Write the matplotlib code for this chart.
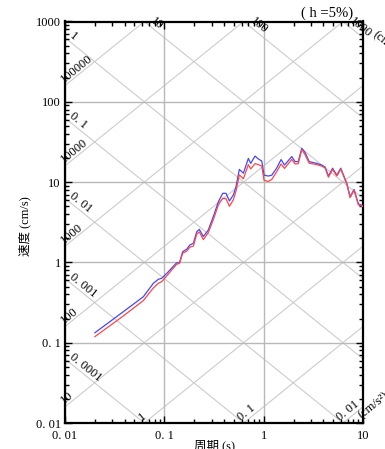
import numpy as np
import matplotlib
matplotlib.use("Agg")
import matplotlib.pyplot as plt
from matplotlib.ticker import FixedLocator, LogLocator, NullFormatter

plt.rcParams['font.family'] = ['Liberation Serif', 'Noto Sans CJK JP']
plt.rcParams['font.size'] = 9

# periods (s) and pseudo-velocity (cm/s), two components
period = [0.020, 0.0386, 0.0615, 0.0775, 0.087, 0.094, 0.106, 0.133, 0.142,
          0.153, 0.168, 0.181, 0.196, 0.212, 0.225, 0.247, 0.277, 0.311,
          0.350, 0.387, 0.418, 0.452, 0.495, 0.527, 0.569, 0.625, 0.701,
          0.741, 0.819, 0.885, 0.957, 1.009, 1.115, 1.207, 1.355, 1.496,
          1.623, 1.918, 2.07, 2.23, 2.42, 2.61, 2.87, 3.42, 3.85, 4.15,
          4.49, 4.94, 5.45, 5.97, 6.87, 7.41, 8.13, 8.99, 10.0]
vel_blue = [0.133, 0.243, 0.374, 0.549, 0.616, 0.634, 0.731, 0.99, 0.99,
            1.36, 1.46, 1.65, 1.73, 2.41, 2.58, 2.10, 2.53, 3.71,
            5.70, 7.25, 7.25, 5.82, 6.90, 8.8, 14.4, 12.9, 19.7,
            17.1, 21.1, 19.4, 18.3, 12.2, 11.9, 12.2, 15.0, 19.1,
            16.3, 20.8, 18.0, 18.0, 26.4, 23.4, 18.0, 17.1, 16.3, 15.4,
            11.9, 14.9, 12.2, 14.9, 9.66, 6.58, 8.09, 5.34, 5.11]
vel_red = [0.119, 0.215, 0.335, 0.48, 0.55, 0.575, 0.68, 0.95, 0.97,
           1.30, 1.38, 1.55, 1.60, 2.25, 2.40, 1.92, 2.35, 3.40,
           5.20, 6.30, 6.20, 5.00, 6.00, 7.80, 12.3, 11.0, 16.5,
           14.6, 17.0, 16.5, 15.8, 10.5, 10.2, 10.8, 13.5, 16.8,
           14.8, 19.2, 16.8, 17.0, 25.5, 22.0, 17.2, 16.5, 15.8, 15.0,
           11.5, 14.4, 11.9, 14.5, 9.5, 6.4, 7.9, 5.2, 4.95]

# tripartite grid values
disp_left = [1, 0.1, 0.01, 0.001, 0.0001]
disp_left_lbl = ["1", "0. 1", "0. 01", "0. 001", "0. 0001"]
disp_top = [10, 100, 1000]
disp_top_lbl = ["10", "100", "1000"]
acc_left = [100000, 10000, 1000, 100, 10]
acc_left_lbl = ["100000", "10000", "1000", "100", "10"]
acc_bot = [1, 0.1, 0.01]
acc_bot_lbl = ["1", "0. 1", "0. 01"]

xticks = [0.01, 0.1, 1, 10]
xtick_lbl = ["0. 01", "0. 1", "1", "10"]
yticks = [0.01, 0.1, 1, 10, 100, 1000]
ytick_lbl = ["0. 01", "0. 1", "1", "10", "100", "1000"]

W, H = 385, 449
fig = plt.figure(figsize=(W / 100, H / 100), dpi=100)
ax = fig.add_axes([65 / W, 26 / H, 298 / W, 401.5 / H])
ax.set_xscale('log')
ax.set_yscale('log')
ax.set_xlim(0.01, 10)
ax.set_ylim(0.01, 1000)

# angle of the diagonals on screen
ang = np.degrees(np.arctan((401.5 / 5) / (298 / 3)))

tt = np.logspace(-2.2, 1.2, 50)
gcol = '#cccccc'
for d in disp_left + disp_top:
    ax.plot(tt, 2 * np.pi * d / tt, color=gcol, lw=0.8, zorder=1)
for a in acc_left + acc_bot:
    ax.plot(tt, a * tt / (2 * np.pi), color=gcol, lw=0.8, zorder=1)

ax.grid(True, which='major', color='#b8b8b8', lw=1.0, zorder=1)

# diagonal labels
for d, s in zip(disp_left, disp_left_lbl):
    t0 = 0.0104
    ax.text(t0, 2 * np.pi * d / t0, s, rotation=-ang, rotation_mode='anchor',
            ha='left', va='bottom', fontsize=9, zorder=3, clip_on=False)
for d, s in zip(disp_top, disp_top_lbl):
    t0 = 2 * np.pi * d / 1000 * 1.1
    ax.text(t0, 2 * np.pi * d / t0, s, rotation=-ang, rotation_mode='anchor',
            ha='left', va='bottom', fontsize=9, zorder=3, clip_on=False)
for a, s in zip(acc_left, acc_left_lbl):
    t0 = 0.0101
    ax.text(t0, a * t0 / (2 * np.pi), s, rotation=ang, rotation_mode='anchor',
            ha='left', va='bottom', fontsize=9, zorder=3, clip_on=False)
for a, s in zip(acc_bot, acc_bot_lbl):
    t0 = 2 * np.pi * 0.01 / a * 0.98
    ax.text(t0, a * t0 / (2 * np.pi), s, rotation=ang, rotation_mode='anchor',
            ha='left', va='bottom', fontsize=9, zorder=3, clip_on=False)
ax.text(10.1, 0.0105, "(cm/s²)", rotation=ang, rotation_mode='anchor',
        ha='left', va='bottom', fontsize=9, clip_on=False)
ax.text(11.8, 620, "(cm)", rotation=-ang, rotation_mode='anchor',
        ha='left', va='bottom', fontsize=9, clip_on=False)

ax.plot(period, vel_blue, color='#4646ff', lw=0.9, zorder=4)
ax.plot(period, vel_red, color='#ff4646', lw=0.9, zorder=4)

ax.xaxis.set_major_locator(FixedLocator(xticks))
ax.set_xticklabels(xtick_lbl)
ax.yaxis.set_major_locator(FixedLocator(yticks))
ax.set_yticklabels(ytick_lbl)
ax.xaxis.set_minor_locator(LogLocator(base=10, subs=np.arange(2, 10)))
ax.yaxis.set_minor_locator(LogLocator(base=10, subs=np.arange(2, 10)))
ax.xaxis.set_minor_formatter(NullFormatter())
ax.yaxis.set_minor_formatter(NullFormatter())
ax.tick_params(which='both', direction='in', top=True, right=True, width=1)
ax.tick_params(which='major', length=5)
ax.tick_params(which='minor', length=3)
ax.tick_params(axis='x', pad=5, labelsize=9)
ax.tick_params(axis='y', pad=3, labelsize=9)
for sp in ax.spines.values():
    sp.set_linewidth(1.6)

fig.text(353 / W, 1 - 13 / H, "( h =5%)", ha='right', va='center', fontsize=10.5)
fig.text(25 / W, 1 - 226 / H, "速度 (cm/s)", rotation=90, ha='center', va='center', fontsize=9)
fig.text(214 / W, 1 - 446 / H, "周期 (s)", ha='center', va='center', fontsize=9)

fig.savefig("out.png", dpi=100)
